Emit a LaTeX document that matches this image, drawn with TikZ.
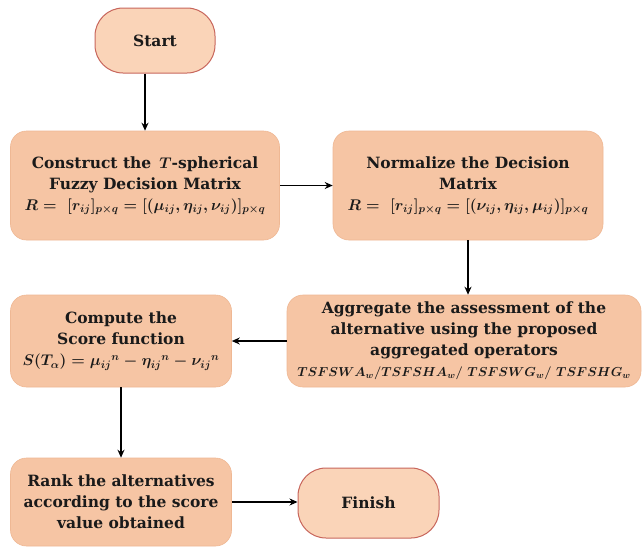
\RequirePackage{fix-cm}
\documentclass[tikz,border=0pt]{standalone}
\usepackage{amsmath}
\usepackage{fontspec}
\setmainfont{DejaVu Serif}
\usetikzlibrary{arrows.meta}
\definecolor{procfill}{HTML}{F6C5A4}
\definecolor{procdraw}{HTML}{EFB894}
\definecolor{termfill}{HTML}{FAD4B8}
\definecolor{termdraw}{HTML}{C8665C}
\definecolor{txt}{HTML}{1A1A1A}
\begin{document}
\begin{tikzpicture}[x=1pt,y=1pt,
  proc/.style={draw=procdraw, line width=0.6pt, fill=procfill, rounded corners=16pt,
    align=center, inner sep=2pt, text=txt,
    font=\fontsize{15.5}{21}\selectfont\bfseries\boldmath},
  term/.style={draw=termdraw, line width=1pt, fill=termfill, rounded corners=28pt,
    align=center, inner sep=2pt, text=txt,
    font=\fontsize{15.5}{21}\selectfont\bfseries},
  arr/.style={draw=black, line width=1.4pt, -{Stealth[length=8pt,width=7pt]}}]
\useasboundingbox (0,0) rectangle (642,-547);
\fill[white] (0,0) rectangle (642,-547);

\node[term, minimum width=120, minimum height=65] (start) at (155,-40.5) {Start};

\node[proc, minimum width=269, minimum height=109] (b1) at (145,-185.5)
  {Construct the \,$T$-spherical\\ Fuzzy Decision Matrix\\
   $R=\ [r_{ij}]_{p\times q}=[(\mu_{ij},\eta_{ij},\nu_{ij})]_{p\times q}$};

\node[proc, minimum width=270, minimum height=109] (b2) at (468,-185.5)
  {Normalize the Decision\\ Matrix\\
   $R=\ [r_{ij}]_{p\times q}=[(\nu_{ij},\eta_{ij},\mu_{ij})]_{p\times q}$};

\node[proc, minimum width=354, minimum height=92] (b3) at (464,-341)
  {Aggregate the assessment of the\\ alternative using the proposed\\ aggregated operators\\
   {\fontsize{13}{19}\selectfont$TSFSWA_w/TSFSHA_w/\ TSFSWG_w/\ TSFSHG_w$}};

\node[proc, minimum width=221, minimum height=92] (b4) at (121,-341)
  {Compute the\\ Score function\\
   $S(T_\alpha)={\mu_{ij}}^n-{\eta_{ij}}^n-{\nu_{ij}}^n$};

\node[proc, minimum width=221, minimum height=88] (b5) at (121,-502)
  {Rank the alternatives\\ according to the score\\ value obtained};

\node[term, minimum width=141, minimum height=70] (finish) at (368.5,-503) {Finish};

\draw[arr] (start.south -| b1.north) -- (b1.north);
\draw[arr] (b1.east) -- (b2.west);
\draw[arr] (b2.south) -- (b3.north -| b2.south);
\draw[arr] (b3.west) -- (b4.east);
\draw[arr] (b4.south) -- (b5.north);
\draw[arr] (b5.east) -- (b5.east -| finish.west);
\end{tikzpicture}
\end{document}
